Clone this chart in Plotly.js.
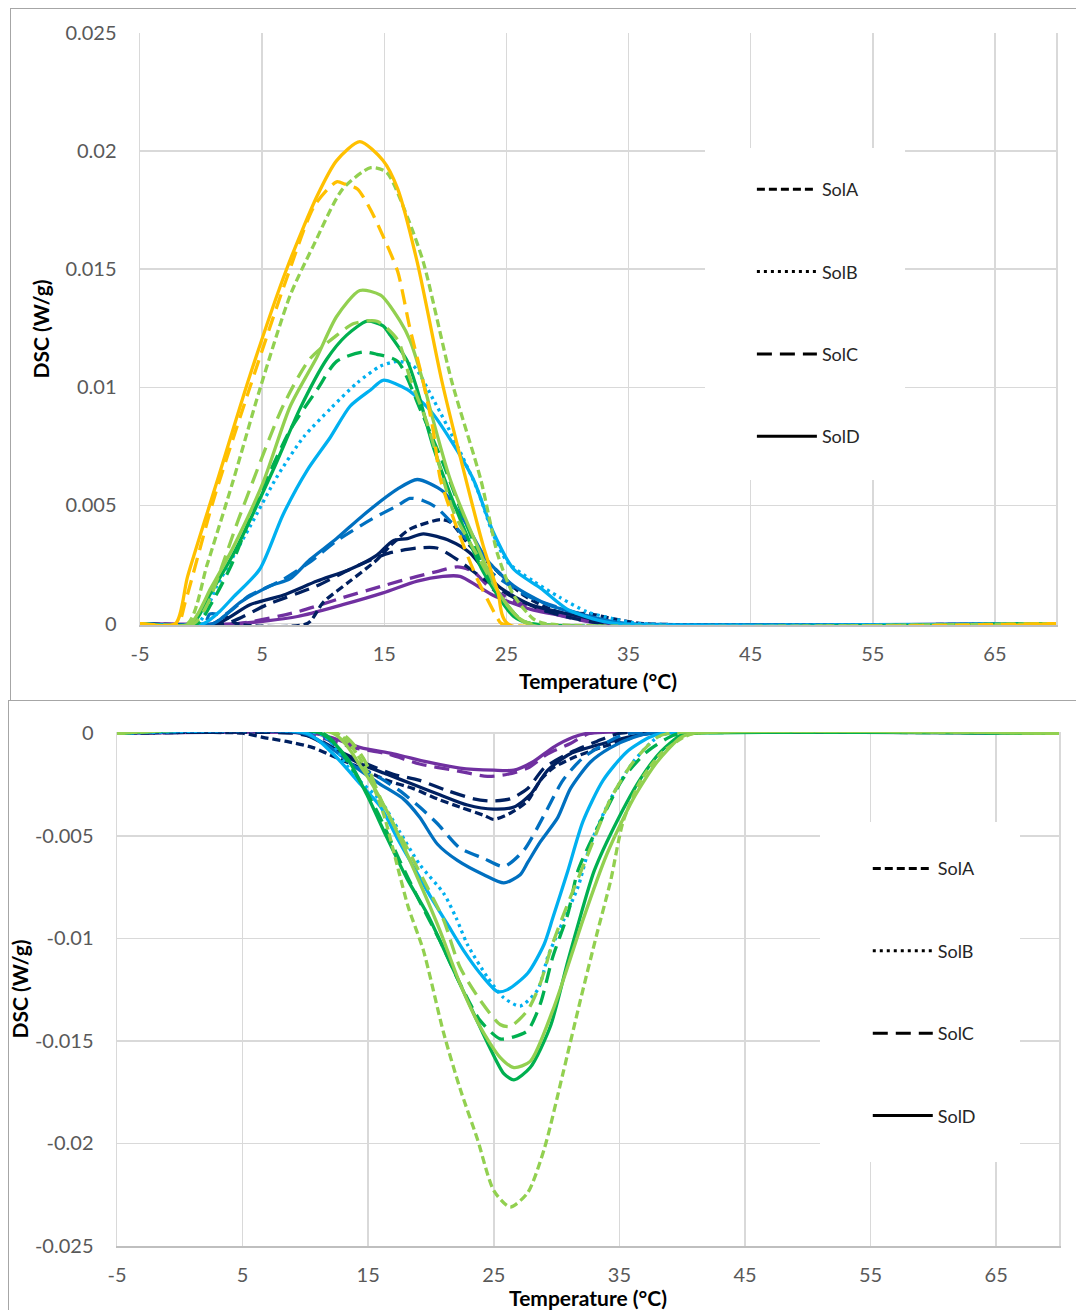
<!DOCTYPE html>
<html><head><meta charset="utf-8">
<script src="https://cdn.plot.ly/plotly-3.0.1.min.js"></script>
<style>
html,body{margin:0;padding:0;background:#fff;width:1076px;height:1310px;overflow:hidden;position:relative;font-family:Lato,sans-serif}
#top{position:absolute;left:0;top:0;width:1076px;height:700px}
#bot{position:absolute;left:0;top:700px;width:1076px;height:610px}
.frame{position:absolute;border:1px solid #a6a6a6;pointer-events:none;background:transparent}
</style></head><body>
<div id="top"></div><div id="bot"></div>
<div class="frame" style="left:10px;top:8px;width:1090px;height:691px"></div>
<div class="frame" style="left:8px;top:700px;width:1090px;height:640px"></div>
<script>
// ---------- tick labels ----------
const xTickVals = [-5, 5, 15, 25, 35, 45, 55, 65];
const xTickText = ['-5', '5', '15', '25', '35', '45', '55', '65'];
const yTopTickVals = [0, 0.005, 0.01, 0.015, 0.02, 0.025];
const yTopTickText = ['0', '0.005', '0.01', '0.015', '0.02', '0.025'];
const yBotTickVals = [-0.025, -0.02, -0.015, -0.01, -0.005, 0];
const yBotTickText = ['-0.025', '-0.02', '-0.015', '-0.01', '-0.005', '0'];
const solutions = ['SolA', 'SolB', 'SolC', 'SolD'];

// ---------- top chart (exotherm, positive) ----------
const topPurpleD_x = [-5, 3.0, 7.9, 11.6, 14.9, 17.7, 19.8, 21.2, 22.6, 23.9, 27.0, 31.1, 33.6, 70];
const topPurpleD_y = [0, 0, 0.0003, 0.0008, 0.0013, 0.0018, 0.0020, 0.0020, 0.0016, 0.0012, 0.0006, 0.0002, 0, 0];
const topPurpleC_x = [-5, 3.0, 7.9, 11.6, 14.9, 17.7, 19.3, 21.0, 22.3, 23.7, 26.4, 29.7, 33, 70];
const topPurpleC_y = [0, 0, 0.0005, 0.0011, 0.0016, 0.0020, 0.0022, 0.0024, 0.0022, 0.0015, 0.0008, 0.0003, 0, 0];
const topNavyC_x = [-5, 2.0, 5.4, 9.5, 12.2, 14.4, 15.5, 17.7, 19.3, 21.0, 23.1, 25.6, 28.4, 33, 70];
const topNavyC_y = [0, 0, 0.0008, 0.0016, 0.0023, 0.0028, 0.0030, 0.0032, 0.0032, 0.0027, 0.0019, 0.0011, 0.0005, 0, 0];
const topNavyD_x = [-5, 1.3, 4.0, 6.7, 9.5, 12.2, 14.4, 15.7, 16.9, 18.2, 20.4, 22.0, 24.3, 27.0, 31.1, 34, 70];
const topNavyD_y = [0, 0, 0.0008, 0.0012, 0.0018, 0.0023, 0.0029, 0.0035, 0.0036, 0.0038, 0.0035, 0.0030, 0.0016, 0.0008, 0.0003, 0, 0];
const topNavyA_x = [-5, 1.0, 2.0, 2.9, 8.7, 10.0, 12.2, 14.4, 15.5, 17.1, 19.6, 20.4, 22.0, 23.7, 26.4, 29.2, 31.9, 33.8, 36.2, 70];
const topNavyA_y = [0, 0, 0.0003, 0, 0, 0.0009, 0.0018, 0.0027, 0.0033, 0.0040, 0.0044, 0.0043, 0.0033, 0.0025, 0.0012, 0.0005, 0.0004, 0.0002, 0, 0];
const topBlueC_x = [-5, 0.3, 0.7, 2.0, 4.0, 6.5, 8.9, 11.1, 13.9, 16.1, 17.1, 18.2, 19.3, 21.5, 23.7, 27.0, 31.1, 34, 70];
const topBlueC_y = [0, 0, 0.0004, 0.0004, 0.0012, 0.0018, 0.0026, 0.0035, 0.0044, 0.0050, 0.0053, 0.0052, 0.0049, 0.0037, 0.0022, 0.0011, 0.0004, 0, 0];
const topBlueD_x = [-5, 1.0, 3.2, 5.7, 7.3, 8.9, 11.1, 13.3, 16.1, 17.7, 19.8, 21.5, 23.4, 25.6, 28.4, 31.1, 33.5, 35, 70];
const topBlueD_y = [0, 0, 0.0009, 0.0016, 0.0019, 0.0027, 0.0036, 0.0046, 0.0057, 0.0061, 0.0056, 0.0044, 0.0027, 0.0016, 0.0008, 0.0004, 0.0001, 0, 0];
const topLBlueD_x = [-5, 0.2, 1.5, 2.6, 4.8, 6.7, 8.7, 10.6, 12.2, 13.9, 14.9, 16.9, 18.8, 20.4, 22.3, 23.9, 25.6, 27.8, 30.0, 32.1, 34, 70];
const topLBlueD_y = [0, 0, 0.0005, 0.0011, 0.0023, 0.0046, 0.0065, 0.0079, 0.0092, 0.0099, 0.0103, 0.0099, 0.0090, 0.0078, 0.0061, 0.0039, 0.0023, 0.0015, 0.0006, 0.0002, 0, 0];
const topLBlueB_x = [-5, -0.3, 1.3, 4.0, 6.2, 8.4, 10.6, 12.8, 14.7, 16.1, 17.4, 19.0, 21.0, 22.6, 23.9, 25.1, 27.2, 29.4, 31.6, 33.8, 36, 70];
const topLBlueB_y = [0, 0, 0.0016, 0.0041, 0.0062, 0.0079, 0.0091, 0.0102, 0.0109, 0.0111, 0.0109, 0.0095, 0.0075, 0.0057, 0.0038, 0.0026, 0.0018, 0.0011, 0.0005, 0.0002, 0, 0];
const topGreenC_x = [-5, -0.3, 1.0, 2.5, 4.6, 7.3, 9.5, 11.1, 13.3, 14.4, 16.1, 18.0, 19.8, 21.8, 23.9, 26.1, 27, 70];
const topGreenC_y = [0, 0, 0.0010, 0.0025, 0.0052, 0.0082, 0.0099, 0.0111, 0.0115, 0.0114, 0.0111, 0.0090, 0.0068, 0.0041, 0.0016, 0.0002, 0, 0];
const topGreenD_x = [-5, -0.7, 0.8, 2.6, 5.9, 8.1, 10.3, 11.9, 13.6, 14.9, 15.5, 16.9, 17.7, 19.0, 21.0, 23.1, 25.6, 27, 70];
const topGreenD_y = [0, 0, 0.0013, 0.0029, 0.0065, 0.0091, 0.0112, 0.0122, 0.0128, 0.0126, 0.0122, 0.0111, 0.0099, 0.0075, 0.0047, 0.0022, 0.0003, 0, 0];
const topLGreenC_x = [-5, -0.6, 0.5, 3.2, 6.7, 8.9, 11.1, 12.5, 14.4, 16.1, 17.1, 18.5, 20.7, 22.6, 24.5, 26.1, 27, 70];
const topLGreenC_y = [0, 0, 0.0008, 0.0046, 0.0092, 0.0112, 0.0122, 0.0127, 0.0128, 0.0120, 0.0104, 0.0085, 0.0047, 0.0029, 0.0012, 0.0002, 0, 0];
const topLGreenD_x = [-5, -0.9, 0.8, 2.6, 5.1, 7.3, 9.5, 11.1, 13.0, 14.7, 16.3, 17.1, 18.2, 18.8, 20.4, 22.6, 24.5, 26.7, 70];
const topLGreenD_y = [0, 0, 0.0015, 0.0032, 0.0060, 0.0092, 0.0113, 0.0130, 0.0141, 0.0139, 0.0128, 0.0120, 0.0102, 0.0090, 0.0061, 0.0033, 0.0012, 0, 0];
const topLGreenA_x = [-5, -1.1, 0.5, 2.6, 4.8, 7.3, 9.2, 11.6, 13.9, 15.2, 16.9, 18.2, 20.5, 22.9, 24.3, 25.6, 27.2, 28.2, 70];
const topLGreenA_y = [0, 0, 0.0025, 0.0060, 0.0099, 0.0139, 0.0160, 0.0184, 0.0193, 0.0191, 0.0172, 0.0153, 0.0103, 0.0061, 0.0029, 0.0012, 0.0002, 0, 0];
const topOrangeC_x = [-5, -1.9, -1.3, 1.0, 4.0, 7.0, 9.3, 11.1, 11.8, 12.8, 13.9, 14.9, 16.1, 17.1, 18.2, 19.0, 19.6, 21.2, 22.6, 24.3, 24.6, 70];
const topOrangeC_y = [0, 0, 0.0009, 0.0052, 0.0100, 0.0146, 0.0177, 0.0187, 0.0186, 0.0184, 0.0175, 0.0164, 0.0149, 0.0125, 0.0102, 0.0082, 0.0061, 0.0037, 0.0019, 0.0002, 0, 0];
const topOrangeD_x = [-5, -2.1, -1.1, 1.3, 4.0, 7.0, 9.5, 11.1, 13.0, 14.9, 16.1, 17.7, 19.7, 21.2, 23.1, 24.3, 25.1, 70];
const topOrangeD_y = [0, 0, 0.0020, 0.0060, 0.0105, 0.0150, 0.0181, 0.0196, 0.0204, 0.0196, 0.0184, 0.0153, 0.0103, 0.0071, 0.0033, 0.00135, 0, 0];

// ---------- bottom chart (endotherm, negative) ----------
const botPurpleD_x = [-5, 10.5, 12.0, 14.4, 17.0, 19.7, 22.3, 25.0, 26.6, 28.1, 29.7, 31.3, 32.5, 70];
const botPurpleD_y = [0, 0, -0.0002, -0.0007, -0.0010, -0.0014, -0.0017, -0.0018, -0.0018, -0.0014, -0.0007, -0.0002, 0, 0];
const botPurpleC_x = [-5, 10.0, 11.2, 13.8, 16.5, 19.1, 21.8, 24.5, 26.1, 27.7, 29.3, 31.1, 32.7, 70];
const botPurpleC_y = [0, 0, -0.0002, -0.0007, -0.0010, -0.0015, -0.0018, -0.0021, -0.0020, -0.0017, -0.0010, -0.0005, 0, 0];
const botNavyC_x = [-5, 9.0, 10.6, 12.8, 14.9, 17.0, 19.1, 21.3, 23.4, 24.7, 26.3, 27.7, 29.0, 30.9, 33.2, 35.1, 70];
const botNavyC_y = [0, 0, -0.0002, -0.0009, -0.0015, -0.0020, -0.0023, -0.0028, -0.0032, -0.0033, -0.0032, -0.0027, -0.0017, -0.0010, -0.0004, 0, 0];
const botNavyD_x = [-5, 9.6, 12.0, 14.4, 16.5, 18.6, 20.7, 22.9, 25.0, 26.6, 27.9, 29.3, 31.1, 33.7, 36.4, 37.5, 70];
const botNavyD_y = [0, 0, -0.0007, -0.0015, -0.0020, -0.0025, -0.0030, -0.0035, -0.0037, -0.0036, -0.0030, -0.0018, -0.0010, -0.0005, -0.0001, 0, 0];
const botNavyA_x = [-5, 5.0, 6.6, 8.5, 10.6, 12.5, 14.4, 16.5, 18.6, 20.5, 22.3, 24.2, 25.0, 26.3, 27.7, 28.7, 29.7, 31.3, 33.5, 35.6, 37, 70];
const botNavyA_y = [0, 0, -0.0002, -0.0004, -0.0007, -0.0012, -0.0017, -0.0023, -0.0027, -0.0032, -0.0036, -0.0040, -0.0042, -0.0039, -0.0033, -0.0023, -0.0017, -0.0012, -0.0007, -0.0003, 0, 0];
const botBlueC_x = [-5, 11.0, 12.0, 13.8, 16.0, 17.5, 19.1, 20.5, 22.3, 24.2, 25.8, 27.4, 29.0, 30.5, 32.1, 34.8, 36, 70];
const botBlueC_y = [0, 0, -0.0004, -0.0015, -0.0022, -0.0028, -0.0036, -0.0044, -0.0056, -0.0061, -0.0065, -0.0057, -0.0040, -0.0023, -0.0012, -0.0002, 0, 0];
const botBlueD_x = [-5, 9.8, 12.0, 14.1, 16.0, 17.8, 19.1, 20.5, 22.1, 24.2, 25.8, 27.1, 27.7, 28.7, 30.1, 31.1, 32.7, 34.3, 36.1, 37.5, 70];
const botBlueD_y = [0, 0, -0.0007, -0.0017, -0.0025, -0.0032, -0.0041, -0.0054, -0.0062, -0.0069, -0.0073, -0.0069, -0.0063, -0.0053, -0.0041, -0.0027, -0.0014, -0.0007, -0.0002, 0, 0];
const botLBlueD_x = [-5, 10.1, 12.2, 14.4, 16.0, 17.3, 18.6, 20.0, 21.3, 22.6, 23.9, 25.3, 26.1, 27.7, 29.0, 29.7, 30.9, 32.1, 33.7, 35.6, 37.4, 38.5, 70];
const botLBlueD_y = [0, 0, -0.0010, -0.0025, -0.0036, -0.0051, -0.0065, -0.0080, -0.0093, -0.0106, -0.0117, -0.0126, -0.0125, -0.0117, -0.0103, -0.0090, -0.0067, -0.0043, -0.0023, -0.0009, -0.0002, 0, 0];
const botLBlueB_x = [-5, 11.0, 12.0, 13.8, 16.0, 17.5, 19.1, 21.0, 22.0, 22.9, 24.5, 25.8, 27.1, 28.5, 29.3, 30.2, 31.7, 32.7, 34.3, 36.1, 38.0, 39, 70];
const botLBlueB_y = [0, 0, -0.0004, -0.0020, -0.0033, -0.0048, -0.0064, -0.0078, -0.0090, -0.0103, -0.0119, -0.0129, -0.0133, -0.0125, -0.0109, -0.0096, -0.0075, -0.0054, -0.0032, -0.0014, -0.0002, 0, 0];
const botGreenC_x = [-5, 11.4, 13.8, 15.7, 17.5, 19.1, 20.7, 22.3, 23.9, 25.5, 26.6, 27.7, 28.7, 29.7, 30.9, 31.7, 33.5, 35.3, 37.2, 39.3, 40.5, 70];
const botGreenC_y = [0, 0, -0.0018, -0.0038, -0.0062, -0.0082, -0.0101, -0.0122, -0.0140, -0.0149, -0.0148, -0.0145, -0.0132, -0.0109, -0.0088, -0.0067, -0.0043, -0.0022, -0.0009, -0.0001, 0, 0];
const botGreenD_x = [-5, 11.2, 13.3, 14.9, 16.5, 18.1, 19.7, 21.3, 22.9, 24.5, 25.8, 26.6, 27.9, 29.5, 30.9, 32.0, 33.0, 34.8, 36.7, 38.3, 39.9, 41, 70];
const botGreenD_y = [0, 0, -0.0012, -0.0030, -0.0051, -0.0071, -0.0088, -0.0109, -0.0130, -0.0151, -0.0166, -0.0169, -0.0163, -0.0143, -0.0111, -0.0087, -0.0067, -0.0043, -0.0022, -0.0009, -0.0001, 0, 0];
const botLGreenC_x = [-5, 12.8, 14.6, 16.2, 18.1, 19.7, 21.0, 22.3, 23.9, 25.5, 26.3, 27.7, 28.7, 29.6, 30.9, 32.5, 34.3, 36.1, 38.0, 39, 70];
const botLGreenC_y = [0, 0, -0.0012, -0.0035, -0.0056, -0.0075, -0.0091, -0.0114, -0.0130, -0.0142, -0.0143, -0.0135, -0.0122, -0.0104, -0.0083, -0.0059, -0.0032, -0.0014, -0.0002, 0, 0];
const botLGreenD_x = [-5, 12.2, 14.6, 16.5, 18.1, 20.7, 22.3, 23.9, 25.5, 26.6, 27.9, 29.7, 31.3, 32.1, 34.0, 36.1, 38.0, 39.9, 41, 70];
const botLGreenD_y = [0, 0, -0.0018, -0.0038, -0.0059, -0.0096, -0.0122, -0.0143, -0.0158, -0.0163, -0.0160, -0.0135, -0.0106, -0.0091, -0.0059, -0.0032, -0.0014, -0.0002, 0, 0];
const botLGreenA_x = [-5, 12.5, 14.6, 16.2, 17.5, 18.2, 19.4, 21.0, 22.3, 23.7, 25.0, 26.3, 27.7, 29.0, 30.5, 31.9, 33.2, 34.3, 35.3, 36.7, 38.3, 40.1, 41, 70];
const botLGreenA_y = [0, 0, -0.0015, -0.0039, -0.0069, -0.0085, -0.0106, -0.0146, -0.0173, -0.0198, -0.0223, -0.0231, -0.0224, -0.0203, -0.0166, -0.0130, -0.0098, -0.0072, -0.0043, -0.0023, -0.0010, -0.0002, 0, 0];

// ---------- styles ----------
const colors = {orange: '#FFC000', lgreen: '#92D050', green: '#00B050', lblue: '#00B0F0', blue: '#0070C0', navy: '#002060', purple: '#7030A0'};
const dashes = {SolA: '8px,4px', SolB: '3px,4px', SolC: '15px,8px', SolD: 'solid'};

function tr(x, y, color, sol, name) {
  return {x: x, y: y, type: 'scatter', mode: 'lines', name: name + ' ' + sol, showlegend: false,
    hoverinfo: 'x+y+name',
    line: {color: color, width: 3.3, dash: dashes[sol], shape: 'spline', smoothing: 0.7}};
}
function legendTraces() {
  return solutions.map(s => ({x: [null], y: [null], type: 'scatter', mode: 'lines', name: s,
    legendgroup: s, showlegend: true, line: {color: '#000000', width: 3, dash: dashes[s]}}));
}

const topTraces = [
  tr(topPurpleD_x, topPurpleD_y, colors.purple, 'SolD', 'purple'),
  tr(topPurpleC_x, topPurpleC_y, colors.purple, 'SolC', 'purple'),
  tr(topNavyC_x, topNavyC_y, colors.navy, 'SolC', 'navy'),
  tr(topNavyD_x, topNavyD_y, colors.navy, 'SolD', 'navy'),
  tr(topNavyA_x, topNavyA_y, colors.navy, 'SolA', 'navy'),
  tr(topBlueC_x, topBlueC_y, colors.blue, 'SolC', 'blue'),
  tr(topBlueD_x, topBlueD_y, colors.blue, 'SolD', 'blue'),
  tr(topLBlueD_x, topLBlueD_y, colors.lblue, 'SolD', 'light blue'),
  tr(topLBlueB_x, topLBlueB_y, colors.lblue, 'SolB', 'light blue'),
  tr(topGreenC_x, topGreenC_y, colors.green, 'SolC', 'green'),
  tr(topGreenD_x, topGreenD_y, colors.green, 'SolD', 'green'),
  tr(topLGreenC_x, topLGreenC_y, colors.lgreen, 'SolC', 'light green'),
  tr(topLGreenD_x, topLGreenD_y, colors.lgreen, 'SolD', 'light green'),
  tr(topLGreenA_x, topLGreenA_y, colors.lgreen, 'SolA', 'light green'),
  tr(topOrangeC_x, topOrangeC_y, colors.orange, 'SolC', 'orange'),
  tr(topOrangeD_x, topOrangeD_y, colors.orange, 'SolD', 'orange')
].concat(legendTraces());

const botTraces = [
  tr(botPurpleD_x, botPurpleD_y, colors.purple, 'SolD', 'purple'),
  tr(botPurpleC_x, botPurpleC_y, colors.purple, 'SolC', 'purple'),
  tr(botNavyC_x, botNavyC_y, colors.navy, 'SolC', 'navy'),
  tr(botNavyD_x, botNavyD_y, colors.navy, 'SolD', 'navy'),
  tr(botNavyA_x, botNavyA_y, colors.navy, 'SolA', 'navy'),
  tr(botBlueC_x, botBlueC_y, colors.blue, 'SolC', 'blue'),
  tr(botBlueD_x, botBlueD_y, colors.blue, 'SolD', 'blue'),
  tr(botLBlueD_x, botLBlueD_y, colors.lblue, 'SolD', 'light blue'),
  tr(botLBlueB_x, botLBlueB_y, colors.lblue, 'SolB', 'light blue'),
  tr(botGreenC_x, botGreenC_y, colors.green, 'SolC', 'green'),
  tr(botGreenD_x, botGreenD_y, colors.green, 'SolD', 'green'),
  tr(botLGreenC_x, botLGreenC_y, colors.lgreen, 'SolC', 'light green'),
  tr(botLGreenD_x, botLGreenD_y, colors.lgreen, 'SolD', 'light green'),
  tr(botLGreenA_x, botLGreenA_y, colors.lgreen, 'SolA', 'light green')
].concat(legendTraces());

const tickFont = {family: 'Lato, sans-serif', size: 20, color: '#595959'};
const titleFont = {family: 'Lato, sans-serif', size: 21, color: '#000000', weight: 'bold'};

function xAxis(standoff) {
  return {range: [-5, 70], tickmode: 'array', tickvals: xTickVals, ticktext: xTickText,
    showgrid: true, gridcolor: '#d9d9d9', gridwidth: 1.5, zeroline: false,
    showline: true, linecolor: '#bfbfbf', linewidth: 1.5, ticks: '', ticklabelstandoff: 10,
    tickfont: tickFont, fixedrange: true,
    title: {text: '<b>Temperature (°C)</b>', font: titleFont, standoff: standoff}};
}
function yAxis(range, vals, text, standoff) {
  return {range: range, tickmode: 'array', tickvals: vals, ticktext: text,
    showgrid: true, gridcolor: '#d9d9d9', gridwidth: 1.5, zeroline: false,
    showline: true, mirror: true, linecolor: '#d9d9d9', linewidth: 1.5, ticks: '', ticklabelstandoff: 18,
    tickfont: tickFont, fixedrange: true,
    title: {text: '<b>DSC (W/g)</b>', font: titleFont, standoff: standoff}};
}
function legendCfg(x, y, gap) {
  return {x: x, y: y, xanchor: 'left', yanchor: 'top', bgcolor: 'rgba(0,0,0,0)', borderwidth: 0,
    font: {family: 'Lato, sans-serif', size: 18, color: '#262626'}, tracegroupgap: gap, itemwidth: 60,
    traceorder: 'grouped'};
}

const topLayout = {
  width: 1076, height: 700, margin: {l: 140, r: 20, t: 33, b: 75},
  paper_bgcolor: 'rgba(0,0,0,0)', plot_bgcolor: '#ffffff', showlegend: true,
  xaxis: xAxis(11), yaxis: yAxis([-0.00006, 0.025], yTopTickVals, yTopTickText, 10),
  legend: legendCfg(0.668, 0.767, 56),
  shapes: [{type: 'rect', xref: 'paper', yref: 'paper', x0: 0.6168, x1: 0.8352, y0: 0.2449, y1: 0.8057,
    fillcolor: '#ffffff', line: {width: 0}, layer: 'above'}]
};
const botLayout = {
  width: 1076, height: 610, margin: {l: 117, r: 17, t: 32, b: 64},
  paper_bgcolor: 'rgba(0,0,0,0)', plot_bgcolor: '#ffffff', showlegend: true,
  xaxis: xAxis(2), yaxis: yAxis([-0.025, 0.00006], yBotTickVals, yBotTickText, 0),
  legend: legendCfg(0.797, 0.770, 56),
  shapes: [{type: 'rect', xref: 'paper', yref: 'paper', x0: 0.7463, x1: 0.9586, y0: 0.1634, y1: 0.8249,
    fillcolor: '#ffffff', line: {width: 0}, layer: 'above'}]
};
const cfg = {staticPlot: true, displayModeBar: false};
Plotly.newPlot('top', topTraces, topLayout, cfg);
Plotly.newPlot('bot', botTraces, botLayout, cfg);
</script></body></html>
